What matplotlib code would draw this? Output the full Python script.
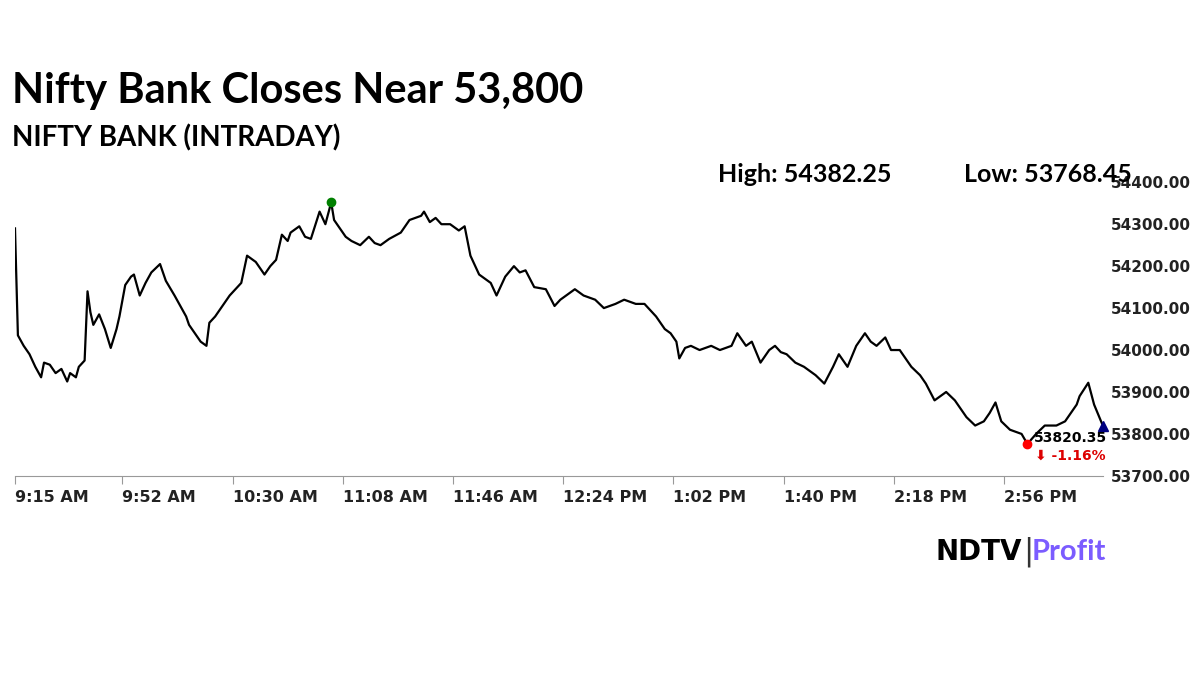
import matplotlib
matplotlib.use("Agg")
import matplotlib.pyplot as plt

minutes = [0,1,3,5,7,9,10,12,14,16,18,19,21,22,24,25,26,27,29,31,33,35,36,38,40,41,43,45,47,50,52,55,57,59,60,62,64,66,67,69,71,74,76,78,80,83,86,88,90,92,94,95,98,100,102,105,107,109,110,112,114,116,119,122,124,126,129,133,136,138,140,141,143,145,147,150,153,155,157,160,162,164,166,169,172,174,176,179,183,186,188,190,193,196,200,203,207,210,214,217,221,224,226,228,229,231,233,236,240,243,247,249,252,254,257,260,262,264,266,269,272,276,279,282,284,287,290,293,295,297,300,302,305,309,312,314,317,321,324,328,331,334,336,338,340,343,347,349,352,355,359,362,366,367,370,372,375]
prices = [54290,54035,54010,53990,53960,53935,53970,53965,53945,53955,53925,53945,53935,53960,53975,54140,54090,54060,54085,54050,54005,54050,54080,54155,54175,54180,54130,54160,54185,54205,54165,54130,54105,54080,54060,54040,54020,54010,54065,54080,54100,54130,54145,54160,54225,54210,54180,54200,54215,54275,54260,54280,54295,54270,54265,54330,54300,54352,54310,54290,54270,54260,54250,54270,54255,54250,54265,54280,54310,54315,54320,54330,54305,54315,54300,54300,54285,54295,54225,54180,54170,54160,54130,54175,54200,54185,54190,54150,54145,54105,54120,54130,54145,54130,54120,54100,54110,54120,54110,54110,54080,54050,54040,54020,53980,54005,54010,54000,54010,54000,54010,54040,54010,54020,53970,54000,54010,53995,53990,53970,53960,53940,53920,53960,53990,53960,54010,54040,54020,54010,54030,54000,54000,53960,53940,53920,53880,53900,53880,53840,53820,53830,53850,53875,53830,53810,53800,53776,53800,53820,53820,53830,53870,53890,53922,53870,53820]

tick_minutes = [0,37,75,113,151,189,227,265,303,341]
tick_labels = ["9:15 AM","9:52 AM","10:30 AM","11:08 AM","11:46 AM","12:24 PM","1:02 PM","1:40 PM","2:18 PM","2:56 PM"]
y_ticks = [53700,53800,53900,54000,54100,54200,54300,54400]
high, low, close, change = 54382.25, 53768.45, 53820.35, -1.16

fig = plt.figure(figsize=(12,6.75), dpi=100)
fig.patch.set_facecolor("white")
ax = fig.add_axes([0.0125,0.295,0.9065,0.435])
ax.plot(minutes, prices, color="black", lw=1.6)
ax.set_xlim(0,375)
ax.set_ylim(53700,54400)
ax.yaxis.tick_right()
ax.set_yticks(y_ticks)
ax.set_yticklabels([f"{v:.2f}" for v in y_ticks], fontsize=11, fontweight="bold", color="#222")
ax.set_xticks(tick_minutes)
ax.set_xticklabels(tick_labels, fontsize=11.5, fontweight="bold", color="#222", ha="left")
for s in ["top","left","right"]:
    ax.spines[s].set_visible(False)
ax.spines["bottom"].set_color("#999")
ax.tick_params(axis="x", length=6, color="#999", pad=4)
ax.tick_params(axis="y", length=0, pad=6)

imax = prices.index(max(prices)); imin = prices.index(min(prices))
ax.plot(minutes[imax], prices[imax], "o", color="green", ms=6, clip_on=False)
ax.plot(minutes[imin], prices[imin], "o", color="red", ms=6, clip_on=False)
ax.plot(minutes[-1], prices[-1], "^", color="navy", ms=7, clip_on=False)
ax.text(minutes[-1]+1.5, prices[-1]-30, f"{close:.2f}", ha="right", va="center", fontsize=10, fontweight="bold")
ax.text(minutes[-1]+1, prices[-1]-72, f"\u2b07 {change:.2f}%", ha="right", va="center", fontsize=10, fontweight="bold", color="#d00")

fig.text(0.01, 0.865, "Nifty Bank Closes Near 53,800", fontsize=30, fontweight="bold", family="Lato", va="center")
fig.text(0.01, 0.795, "NIFTY BANK (INTRADAY)", fontsize=20, fontweight="bold", family="Lato", va="center")
fig.text(0.598, 0.742, f"High: {high:.2f}", fontsize=18, fontweight="bold", family="Lato", va="center")
fig.text(0.803, 0.742, f"Low: {low:.2f}", fontsize=18, fontweight="bold", family="Lato", va="center")
fig.text(0.852, 0.182, "NDTV", fontsize=20, fontweight="heavy", family="DejaVu Sans", ha="right", va="center")
fig.text(0.853, 0.182, "|", fontsize=22, color="#333", ha="left", va="center")
fig.text(0.86, 0.182, "Profit", fontsize=21, fontweight="bold", family="Lato", color="#7b5cff", ha="left", va="center")
fig.savefig("out.png", dpi=100)
